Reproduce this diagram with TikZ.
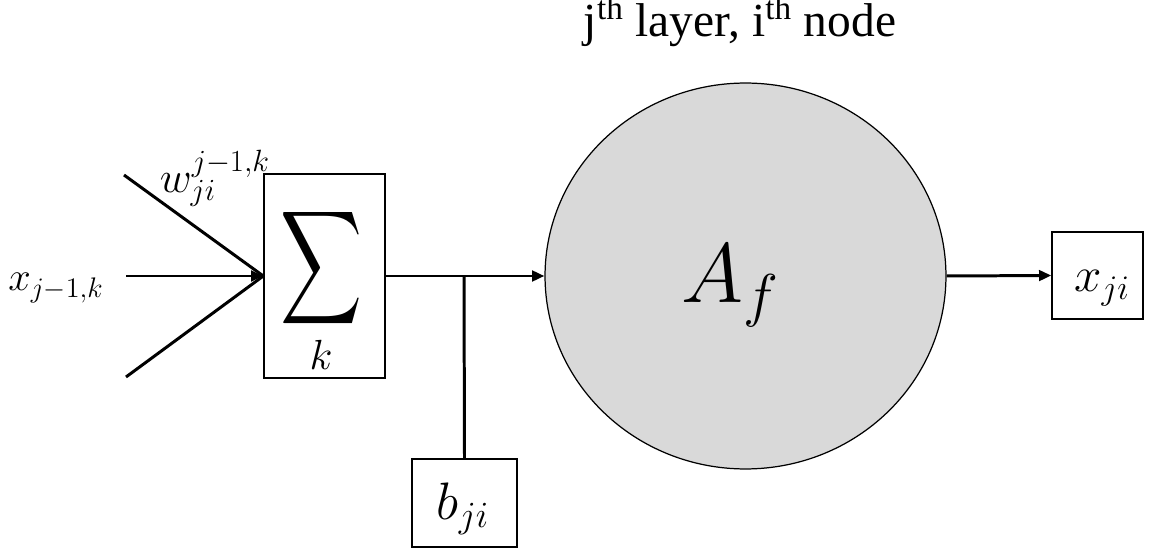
\RequirePackage{fix-cm}
\documentclass[tikz,border=0pt]{standalone}
\usepackage{fontspec}
\usepackage{graphicx}
\newfontfamily\titlefont{Liberation Serif}
\usetikzlibrary{arrows.meta,shapes.geometric}

\begin{document}
\begin{tikzpicture}[
    x=0.02cm, y=-0.02cm,
    wire/.style={draw, line width=1.7pt},
    arrowwire/.style={wire, -{Triangle[length=7pt,width=6pt]}},
    valbox/.style={draw, line width=0.8pt, inner sep=0pt},
    actnode/.style={draw, ellipse, fill=black!15, line width=0.7pt, inner sep=0pt},
    mathlbl/.style={anchor=base, inner sep=0pt}
]
    % Frame of the figure
    \useasboundingbox (0,0) rectangle (1156,553);

    % Title
    \node[anchor=base, font=\titlefont\fontsize{27}{30}\selectfont] (title) at (740,37)
        {j\textsuperscript{th} layer, i\textsuperscript{th} node};

    % Summation block
    \node[valbox, minimum width=2.42cm, minimum height=4.08cm] (sumbox) at (324.5,276) {};
    \node[inner sep=0pt] (sigma) at (321,268.5) {\resizebox*{1.64cm}{2.54cm}{$\displaystyle\sum$}};
    \node[mathlbl, font=\fontsize{24}{26}\selectfont] (sumidx) at (321,370) {$k$};

    % Inputs
    \coordinate (in1) at (124,175);
    \coordinate (in2) at (126,276);
    \coordinate (in3) at (126,377);
    \draw[wire] (in1) -- (sumbox.west);
    \draw[wire] (in3) -- (sumbox.west);
    \draw[arrowwire] (in2) -- (sumbox.west);
    \node[mathlbl, font=\fontsize{23}{25}\selectfont] (xin) at (56,291) {$x_{j-1,k}$};
    \node[mathlbl, font=\fontsize{25}{27}\selectfont] (weight) at (215,193) {$w_{ji}^{j-1,k}$};

    % Activation function
    \node[actnode, minimum width=8.02cm, minimum height=7.72cm] (act) at (745.5,276) {};
    \node[mathlbl, font=\fontsize{48}{50}\selectfont] (actlbl) at (730,303) {$A_f$};

    % Bias
    \node[valbox, minimum width=2.1cm, minimum height=1.76cm] (bias) at (464.5,503) {};
    \node[mathlbl, font=\fontsize{30}{32}\selectfont] (biaslbl) at (463,520) {$b_{ji}$};
    \coordinate (join) at (464,276);
    \draw[arrowwire] (sumbox.east) -- (act.west);
    \draw[wire] (join) -- (bias.north);

    % Output
    \node[valbox, minimum width=1.82cm, minimum height=1.74cm] (out) at (1097.5,275.5) {};
    \node[mathlbl, font=\fontsize{28}{30}\selectfont] (outlbl) at (1102,292) {$x_{ji}$};
    \draw[arrowwire] (act.east) -- (out.west);
\end{tikzpicture}
\end{document}
